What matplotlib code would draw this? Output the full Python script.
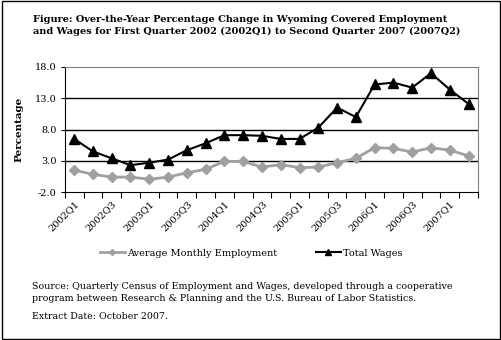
import matplotlib
matplotlib.use("Agg")
import matplotlib.pyplot as plt
from matplotlib.patches import Rectangle

# quarters 2002Q1 .. 2007Q2
quarters = [f"{y}Q{q}" for y in range(2002, 2008) for q in range(1, 5)][:22]
employment = [1.5, 0.85, 0.4, 0.4, 0.05, 0.4, 1.1, 1.65, 2.9, 2.9, 2.0,
              2.4, 1.9, 2.0, 2.7, 3.4, 5.1, 5.0, 4.4, 5.1, 4.7, 3.8]
wages = [6.5, 4.5, 3.4, 2.3, 2.7, 3.2, 4.7, 5.8, 7.1, 7.1, 7.0,
         6.5, 6.5, 8.3, 11.5, 10.0, 15.2, 15.5, 14.7, 17.0, 14.4, 12.1]
yticks = [-2.0, 3.0, 8.0, 13.0, 18.0]

plt.rcParams['font.family'] = ['DejaVu Serif']

fig = plt.figure(figsize=(5.02, 3.40), dpi=100)
ax = fig.add_axes([0.129, 0.435, 0.823, 0.368])

x = list(range(len(quarters)))
ax.plot(x, employment, color='#a0a0a0', lw=2, marker='D', ms=5,
        mec='#a0a0a0', label='Average Monthly Employment', zorder=3)
ax.plot(x, wages, color='black', lw=1.5, marker='^', ms=7,
        label='Total Wages', zorder=4)

ax.set_xlim(-0.5, len(quarters) - 0.5)
ax.set_ylim(-2, 18)
ax.set_yticks(yticks)
ax.set_yticklabels([f"{v:.1f}" for v in yticks], fontsize=7)
for v in yticks[1:-1]:
    ax.axhline(v, color='black', lw=1, zorder=1)

# ticks between categories, labels on every other quarter
ax.set_xticks([i - 0.5 for i in range(len(quarters) + 1)])
ax.set_xticklabels([])
ax.set_xticks(x[::2], minor=True)
ax.set_xticklabels(quarters[::2], minor=True, rotation=45, ha='right',
                   rotation_mode='anchor', fontsize=7)
ax.tick_params(axis='x', which='minor', length=0, pad=5)
ax.tick_params(axis='x', which='major', length=4, direction='out')
ax.tick_params(axis='y', length=3, direction='out', pad=3)

for s in ['top', 'right']:
    ax.spines[s].set_color('#808080')
ax.spines['left'].set_color('black')
ax.spines['bottom'].set_color('black')

ax.set_ylabel('Percentage', fontsize=7.5, fontweight='bold', labelpad=8)

fig.text(0.066, 0.955, "Figure: Over-the-Year Percentage Change in Wyoming Covered Employment\n"
         "and Wages for First Quarter 2002 (2002Q1) to Second Quarter 2007 (2007Q2)",
         fontsize=7, fontweight='bold', va='top', linespacing=1.3)

fig.legend(loc='center', bbox_to_anchor=(0.5, 0.255), ncol=2, frameon=False,
           fontsize=7, columnspacing=4, handlelength=2.6, handletextpad=0.2,
           markerscale=0.6)

fig.text(0.064, 0.14, "Source: Quarterly Census of Employment and Wages, developed through a cooperative\n"
         "program between Research & Planning and the U.S. Bureau of Labor Statistics.",
         fontsize=6.8, va='center', linespacing=1.35)
fig.text(0.064, 0.07, "Extract Date: October 2007.", fontsize=6.8, va='center')

fig.patches.append(Rectangle((0.003, 0.004), 0.993, 0.992, transform=fig.transFigure,
                             fill=False, edgecolor='black', lw=1))

fig.savefig('out.png', dpi=100)
